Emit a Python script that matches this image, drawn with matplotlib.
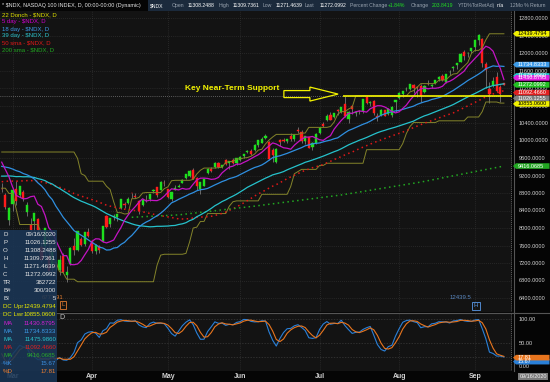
import numpy as np
import pandas as pd
import matplotlib
matplotlib.use("Agg")
import matplotlib.pyplot as plt
from matplotlib.patches import Polygon, Rectangle
from matplotlib.lines import Line2D

W, H = 550, 382
plt.rcParams["font.family"] = ["Liberation Sans", "DejaVu Sans"]

# ---------------- data ($NDX daily, 2020-02-26 .. 2020-09-14) ----------------
holidays = ["2020-04-10", "2020-05-25", "2020-07-03", "2020-09-07"]
days = pd.bdate_range("2020-02-26", "2020-09-14")
days = days[~days.isin(pd.to_datetime(holidays))]

opens = [8900, 8760, 8180, 8560, 8900, 8760, 8830, 8370, 8060, 8150,
         8200, 7560, 7580, 7350, 7150, 7180, 7050, 7360, 6930, 7180,
         7600, 7500, 7750, 7640, 7900, 7700, 7470, 7580, 7700, 8280,
         8090, 8260, 8250, 8450, 8560, 8580, 8790, 8740, 8620, 8530,
         8650, 8660, 8850, 8930, 8880, 9040, 8890, 8660, 8880, 8940,
         9040, 9140, 9190, 9330, 9140, 8900, 8970, 9250, 9340, 9390,
         9490, 9390, 9560, 9480, 9560, 9490, 9560, 9650, 9730, 9760,
         9780, 9890, 9950, 10060, 9970, 9780, 9500, 10010, 10020, 9980,
         10110, 10030, 10230, 10190, 9990, 10070, 9850, 9940, 10180, 10370,
         10460, 10580, 10540, 10690, 10660, 10830, 10500, 10780, 10630, 10680,
         10670, 11000, 10850, 10900, 10560, 10580, 10690, 10600, 10580, 10870,
         10980, 11060, 11170, 11180, 11280, 11230, 11250, 11100, 11290, 11240,
         11320, 11400, 11470, 11330, 11560, 11660, 11720, 11800, 12030, 11990,
         12040, 12140, 12300, 12330, 11750, 11180, 11280, 11460, 11220, 11308.25]
highs = [9020, 8800, 8490, 8880, 9070, 8955, 8880, 8600, 8230, 8350,
         8230, 7750, 8010, 7620, 7510, 7230, 7380, 7440, 7140, 7560,
         7780, 7935, 7800, 7910, 8010, 7710, 7630, 7620, 8050, 8300,
         8230, 8320, 8330, 8670, 8600, 8700, 8800, 8810, 8630, 8660,
         8760, 8780, 8900, 8940, 9080, 9090, 8900, 8820, 8990, 9010,
         9110, 9235, 9320, 9370, 9170, 9060, 9130, 9380, 9390, 9500,
         9520, 9450, 9580, 9530, 9600, 9610, 9640, 9690, 9780, 9800,
         9920, 10010, 10080, 10140, 9990, 9830, 9830, 10040, 10050, 10030,
         10170, 10140, 10300, 10230, 10100, 10080, 9960, 10170, 10320, 10420,
         10600, 10660, 10630, 10720, 10760, 11020, 10680, 10810, 10680, 10700,
         10950, 11010, 10900, 10920, 10630, 10710, 10700, 10740, 10780, 10930,
         11110, 11140, 11220, 11300, 11300, 11250, 11290, 11270, 11380, 11300,
         11390, 11470, 11520, 11530, 11620, 11700, 11780, 11990, 12060, 12030,
         12120, 12300, 12439.48, 12350, 11790, 11330, 11450, 11560, 11280, 11309.74]
lows = [8830, 8430, 8080, 8380, 8520, 8700, 8620, 8270, 7870, 7800,
        7870, 7220, 7330, 7000, 6980, 6830, 6930, 6970, 6771.91, 7150,
        7380, 7480, 7580, 7600, 7800, 7440, 7400, 7420, 7680, 8000,
        8020, 8180, 8150, 8430, 8460, 8550, 8680, 8690, 8330, 8500,
        8600, 8620, 8800, 8720, 8860, 8960, 8690, 8620, 8870, 8930,
        9020, 9110, 9170, 9110, 8870, 8770, 8950, 9240, 9290, 9380,
        9370, 9370, 9440, 9340, 9470, 9430, 9540, 9600, 9710, 9660,
        9760, 9860, 9940, 10030, 9560, 9520, 9480, 9870, 9970, 9950,
        9980, 9990, 10180, 9940, 9930, 9830, 9790, 9930, 10160, 10320,
        10440, 10470, 10510, 10580, 10630, 10530, 10410, 10610, 10550, 10600,
        10640, 10830, 10800, 10590, 10450, 10570, 10555, 10590, 10537, 10660,
        10960, 11000, 11130, 11150, 11080, 11000, 10880, 11080, 11260, 11200,
        11300, 11360, 11370, 11320, 11500, 11580, 11640, 11790, 11850, 11920,
        11990, 12050, 12190, 11680, 11190, 10855.06, 11220, 11100, 10880, 11271.46]
closes = [8891, 8481, 8462, 8878, 8610, 8949, 8681, 8530, 7951, 8344,
          7952, 7274, 8001, 7015, 7452, 7102, 7265, 6990, 6994, 7537,
          7502, 7922, 7622, 7899, 7823, 7478, 7607, 7491, 8040, 8013,
          8220, 8284, 8324, 8652, 8527, 8669, 8789, 8698, 8395, 8631,
          8631, 8773, 8870, 8745, 9057, 9032, 8708, 8815, 8915, 8961,
          9088, 9231, 9303, 9111, 8969, 9051, 9123, 9346, 9295, 9488,
          9396, 9437, 9452, 9525, 9481, 9604, 9628, 9685, 9760, 9693,
          9893, 10004, 10033, 10100, 9569, 9666, 9804, 9975, 9990, 10023,
          10026, 10137, 10212, 9989, 10097, 9835, 9953, 10139, 10287, 10340,
          10569, 10478, 10629, 10685, 10755, 10557, 10656, 10719, 10641, 10671,
          10939, 10851, 10877, 10629, 10540, 10705, 10568, 10712, 10757, 10917,
          11088, 11127, 11185, 11297, 11198, 11210, 11020, 11254, 11285, 11262,
          11375, 11457, 11392, 11513, 11561, 11687, 11776, 11980, 11939, 12011,
          12110, 12292, 12420.54, 11767, 11620, 11068, 11364, 11138, 11068, 11272.10]

# bars before the visible window (needed by the moving averages / channel)
pre_close = [8430, 8440, 8510, 8520, 8570, 8574, 8570, 8630, 8670, 8690, 8695, 8785, 8770, 8710, 8733,
             8873, 8794, 8848, 8846, 8910, 8995, 8975, 9083, 9040, 9068, 9174, 9211, 9195, 9199,
             9237, 9145, 8953, 9112, 9114, 9166, 8992,
             9127, 9335, 9369, 9445, 9402, 9517, 9529, 9613, 9605, 9623, 9650, 9718, 9629, 9447, 9080, 8810]
pre_high = [9260, 9245, 9275, 9030, 9125, 9180, 9170, 9200, 9180, 9340, 9420, 9450,
            9420, 9520, 9590, 9615, 9630, 9630, 9655, 9735, 9737, 9590, 9240, 9200]
pre_low = [9195, 9150, 9080, 8910, 8990, 9095, 9020, 8960, 9020, 9250, 9290, 9380,
           9350, 9380, 9500, 9550, 9540, 9570, 9560, 9690, 9500, 9420, 9050, 8790]

# 200 sma (bar index, value)
sma200_bar = [36, 49, 70, 94, 116, 139]
sma200_val = [8245, 8300, 8500, 8755, 9050, 9416]

support_level = 11026.1255
cursor_bar = 141

info_rows = [("D", "09/16/2020", "#e6e6e6"), ("P", "11026.1255", "#e6e6e6"),
             ("O", "11308.2488", "#e6e6e6"), ("H", "11309.7361", "#e6e6e6"),
             ("L", "11271.4639", "#e6e6e6"), ("C", "11272.0992", "#e6e6e6"),
             ("TR", "382722", "#e6e6e6"), ("B#", "300/300", "#e6e6e6"),
             ("BI", "5", "#e6e6e6"), ("DC Upr", "12439.4794", "#e8e800"),
             ("DC Lwr", "10855.0600", "#e8e800"), ("MA", "11430.8795", "#d020d0"),
             ("MA", "11734.8333", "#3c9ae8"), ("MA", "11475.9860", "#2cc4cc"),
             ("MA", "11092.4660", "#e02020"), ("MA", "9416.0685", "#2aa82a"),
             ("%K", "15.67", "#3c8fe0"), ("%D", "17.81", "#f08030")]

legend_rows = [("22 Donch - $NDX, D", "#e0e000"), ("5 day - $NDX, D", "#d000d0"),
               ("18 day - $NDX, D", "#3c9ae8"), ("39 day - $NDX, D", "#2cc4cc"),
               ("50 sma - $NDX, D", "#e01818"), ("200 sma - $NDX, D", "#22a822")]

header_items = [("$NDX", 150, "#ffffff"), ("Open", 172, "#9aa4b0"), ("11308.2488", 188, "#ffffff"),
                ("High", 219, "#9aa4b0"), ("11309.7361", 233, "#ffffff"), ("Low", 263, "#9aa4b0"),
                ("11271.4639", 276, "#ffffff"), ("Last", 305, "#9aa4b0"), ("11272.0992", 320, "#ffffff"),
                ("Percent Change", 350, "#9aa4b0"), ("+1.84%", 388, "#22dd22"),
                ("Change", 411, "#9aa4b0"), ("203.8419", 432, "#22dd22"),
                ("YTD%TotRetAdj", 458, "#9aa4b0"), ("n/a", 497, "#ffffff"), ("12Mo % Return", 510, "#9aa4b0")]

# price tags on the right axis: value, background, text colour
tags = [(12439.4794, "#f0f000", "#000000"), (11734.8333, "#3c9ae8", "#ffffff"),
        (11430.8795, "#e020e0", "#ffffff"), (11272.0992, "#22c022", "#ffffff"),
        (11092.4660, "#e02020", "#ffffff"), (11026.1255, "#808080", "#ffffff"),
        (10855.0600, "#f0f000", "#000000"), (9416.0685, "#22a822", "#ffffff")]
tag_39 = (11475.9860, "#2cc4cc", "#ffffff")

# ---------------- indicators ----------------
c_all = pd.Series(pre_close + closes, dtype=float)
npre = len(pre_close)


def sma(n, shift=2):
    return c_all.rolling(n).mean().shift(shift).to_numpy()[npre:]


ma5, ma18, ma39, ma50 = sma(5), sma(18), sma(39), sma(50)

h_all = pd.Series(pre_high + highs, dtype=float)
l_all = pd.Series(pre_low + lows, dtype=float)
m = len(pre_high)
dc_up = h_all.rolling(22).max().shift(3).to_numpy()[m:]
dc_lo = l_all.rolling(22).min().shift(3).to_numpy()[m:]

cs = pd.Series(pre_close[-m:] + closes, dtype=float)
hh = h_all.rolling(14).max()
ll = l_all.rolling(14).min()
fastk = 100 * (cs - ll) / (hh - ll)
slowk = fastk.rolling(3).mean()
slowd = slowk.rolling(3).mean()
slowk = slowk.to_numpy()[m:]
slowd = slowd.to_numpy()[m:]

# ---------------- figure ----------------
fig = plt.figure(figsize=(W / 100, H / 100), dpi=100, facecolor="#050505")
main_top, main_bot = 11, 312
low_top, low_bot = 313, 371
plot_right = 512
ymin, ymax = 6080, 12960
x = np.arange(len(closes))
xl = (-1.7 / 3.613, (plot_right - 1.7) / 3.613)

ax = fig.add_axes([0, 1 - main_bot / H, plot_right / W, (main_bot - main_top) / H])
ax2 = fig.add_axes([0, 1 - low_bot / H, plot_right / W, (low_bot - low_top) / H])
for a in (ax, ax2):
    a.set_facecolor("#131313")
    for s in a.spines.values():
        s.set_visible(False)
    a.set_xlim(*xl)
    a.set_xticks([])

month_starts = [i for i in range(1, len(days)) if days[i].month != days[i - 1].month]

# grid
ax.set_ylim(ymin, ymax)
ticks = list(range(6400, 12801, 400))
for v in ticks:
    ax.axhline(v, color="#3a3a3a", lw=0.5, ls=(0, (1, 2)), zorder=0)
for b in month_starts:
    ax.axvline(b, color="#3a3a3a", lw=0.5, ls=(0, (1, 2)), zorder=0)
    ax2.axvline(b, color="#3a3a3a", lw=0.5, ls=(0, (1, 2)), zorder=0)

ax.yaxis.tick_right()
ax.set_yticks(ticks)
ax.set_yticklabels([f"{v:.4f}" for v in ticks])
ax.tick_params(axis="y", length=0, pad=5, labelsize=4.1, labelcolor="#d2d2d2")

# candles
o = np.array(opens, float)
c = np.array(closes, float)
up = c >= o
col = np.where(up, "#1ee01e", "#ff1c1c")
ax.vlines(x, lows, highs, color="#9a9a9a", lw=0.45, zorder=2)
ax.bar(x, np.abs(c - o), bottom=np.minimum(o, c), width=0.6, color=col,
       edgecolor=col, linewidth=0.3, zorder=3)

# studies
ax.plot(x, dc_up, color="#84842a", lw=0.7, zorder=4)
ax.plot(x, dc_lo, color="#84842a", lw=0.7, zorder=4)
ax.plot(x, ma50, color="#e01818", lw=1.1, ls=(0, (1, 2.2)), zorder=4)
ax.plot(sma200_bar, sma200_val, color="#22a822", lw=1.1, ls=(0, (1, 2.2)), zorder=4)
ax.plot(x, ma39, color="#26c2cc", lw=0.9, zorder=5)
ax.plot(x, ma18, color="#2f8fe0", lw=0.9, zorder=5)
ax.plot(x, ma5, color="#c414c4", lw=0.9, zorder=5)

# support line, arrow and note
ax.hlines(support_level, 94.5, xl[1], color="#f2f200", lw=1.2, zorder=6)
ax.axhline(support_level, color="#a0a0a0", lw=0.5, ls=(0, (1, 2)), zorder=1)
yc = support_level + 35
arrow = [(78.1, yc + 80), (85.3, yc + 80), (85.3, yc + 160), (93.1, yc),
         (85.3, yc - 160), (85.3, yc - 80), (78.1, yc - 80)]
ax.add_patch(Polygon(arrow, closed=True, fill=False, ec="#f2f200", lw=0.9, zorder=6))
ax.text(50.7, support_level + 170, "Key Near-Term Support", color="#f2f200",
        fontsize=6, fontweight="bold", ha="left", va="center", zorder=6)

# high / low bubbles
ilo = int(np.argmin(lows))
ihi = int(np.argmax(highs))
ax.text(ilo - 1, 6420, f"{lows[ilo]:.2f}", color="#e07a30", fontsize=4.3, ha="right", va="center")
ax.text(ilo - 1, 6250, "L", color="#e07a30", fontsize=4.3, ha="center", va="center",
        bbox=dict(boxstyle="square,pad=0.25", fc="none", ec="#e07a30", lw=0.6))
ax.text(ihi - 2, 6420, "12439.5", color="#5a88c0", fontsize=4.3, ha="right", va="center")
ax.text(ihi - 0.7, 6220, "H", color="#5a9ae8", fontsize=4.3, ha="center", va="center",
        bbox=dict(boxstyle="square,pad=0.25", fc="none", ec="#5a9ae8", lw=0.6))

# cursor
for a in (ax, ax2):
    a.axvline(cursor_bar, color="#a0a0a0", lw=0.5, ls=(0, (1, 2)), zorder=1)

# stochastic panel
ax2.set_ylim(-10.6, 112.8)
for v in (100, 50, 20):
    ax2.axhline(v, color="#3a3a3a", lw=0.5, ls=(0, (2, 2)), zorder=0)
ax2.plot(x, slowk, color="#2a80d8", lw=0.8, zorder=3)
ax2.plot(x, slowd, color="#e8751e", lw=0.8, zorder=4)
ax2.yaxis.tick_right()
ax2.set_yticks([0, 50, 100])
ax2.set_yticklabels(["0.00", "50.00", "100.00"])
ax2.tick_params(axis="y", length=0, pad=5, labelsize=4.1, labelcolor="#d2d2d2")
ax2.text(57.5 / 3.613, 104, "D", color="#c8c8c8", fontsize=5, ha="left", va="center")

# ---------------- figure-level decorations ----------------
def fx(px):
    return px / W


def fy(py):
    return 1 - py / H


# separators
fig.add_artist(Line2D([fx(513.5), fx(513.5)], [fy(11), fy(371)], color="#555555", lw=0.8))
fig.add_artist(Line2D([0, 1], [fy(312.5), fy(312.5)], color="#555555", lw=0.8))

# header
fig.patches.append(Rectangle((fx(148), fy(11)), fx(402), 11 / H, transform=fig.transFigure,
                             fc="#1b2a3c", ec="none", zorder=1))
fig.text(fx(2), fy(5.5), "* $NDX, NASDAQ 100 INDEX, D, 00:00-00:00 (Dynamic)",
         color="#e8e8e8", fontsize=3.9, ha="left", va="center")
for t, px, cc in header_items:
    fig.text(fx(px), fy(5.5), t, color=cc, fontsize=3.7, ha="left", va="center", zorder=2)

for k, (t, cc) in enumerate(legend_rows):
    fig.text(fx(2), fy(15 + 7 * k), t, color=cc, fontsize=4.3, ha="left", va="center")


# price tags
def price_px(v):
    return main_top + (ymax - v) / (ymax - ymin) * (main_bot - main_top)


def tag(py, text, bg, fg):
    pts = [(fx(513), fy(py)), (fx(516), fy(py - 2.8)), (fx(549.5), fy(py - 2.8)),
           (fx(549.5), fy(py + 2.8)), (fx(516), fy(py + 2.8))]
    fig.patches.append(Polygon(pts, closed=True, transform=fig.transFigure, fc=bg, ec="none", zorder=3))
    fig.text(fx(518), fy(py), text, color=fg, fontsize=4.0, ha="left", va="center", zorder=4)


tag(price_px(tag_39[0]), f"{tag_39[0]:.4f}", tag_39[1], tag_39[2])
prev = -100
for v, bg, fg in tags:
    py = max(price_px(v), prev + 5.6)
    tag(py, f"{v:.4f}", bg, fg)
    prev = py


def stoch_px(v):
    return low_top + (112.8 - v) / (112.8 + 10.6) * (low_bot - low_top)


tag(stoch_px(15.67) + 3, "15.67", "#2a80d8", "#ffffff")
tag(stoch_px(17.81), "17.81", "#e8751e", "#ffffff")

# date axis
for b in month_starts:
    fig.text(fx(1.7 + 3.613 * b), fy(377), days[b].strftime("%b"), color="#d0d0d0",
             fontsize=5, fontweight="bold", ha="center", va="center")
fig.text(fx(533), fy(376.5), "09/16/2020", color="#f0f0f0", fontsize=4.0, ha="center", va="center",
         bbox=dict(boxstyle="square,pad=0.25", fc="#7a7a7a", ec="none"))

# data box
fig.patches.append(Rectangle((0, fy(382)), fx(57), 152 / H, transform=fig.transFigure,
                             fc="#1a3656", ec="none", alpha=0.88, zorder=5))
for k, (lab, val, cc) in enumerate(info_rows):
    yy = fy(234.5 + 8.05 * k)
    fig.text(fx(3), yy, lab, color=cc, fontsize=4.4, ha="left", va="center", zorder=6)
    fig.text(fx(56), yy, val, color=cc, fontsize=4.4, ha="right", va="center", zorder=6)

fig.savefig("out.png", dpi=100, facecolor=fig.get_facecolor())
